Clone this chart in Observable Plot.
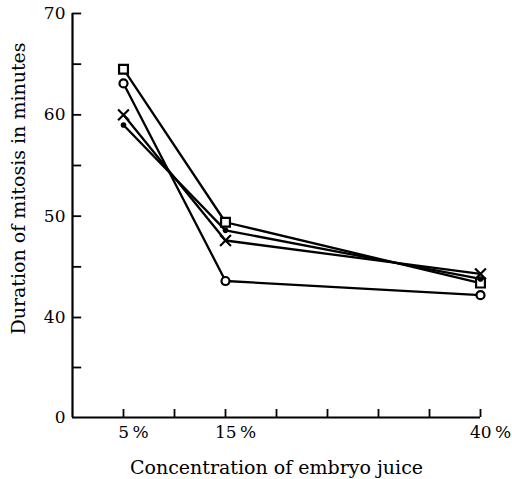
<!DOCTYPE html>
<html>
<head>
<meta charset="utf-8">
<script src="https://cdn.jsdelivr.net/npm/d3@7"></script>
<script src="https://cdn.jsdelivr.net/npm/@observablehq/plot@0.6"></script>
<style>
  html, body { margin: 0; padding: 0; background: #fff; }
  #chart svg { display: block; }
</style>
</head>
<body>
<div id="chart"></div>
<script>
// Data
const concentrations = [5, 15, 40];               // % embryo juice
const squareSeries = [64.5, 49.4, 43.4];
const circleSeries = [63.1, 43.6, 42.2];
const crossSeries  = [60.0, 47.6, 44.3];
const dotSeries    = [59.0, 48.6, 43.8];

const xTicks = [5, 10, 15, 20, 25, 30, 35, 40];
const xTickLabels = [5, 15, 40];
const yTicks = [20, 40, 45, 50, 55, 60, 65, 70];
const yTickLabels = [0, 40, 50, 60, 70];

const xTitle = "Concentration of embryo juice";
const yTitle = "Duration of mitosis in minutes";

const series = [
  {name: "square", values: squareSeries, symbol: "square", r: 5, fill: "white"},
  {name: "circle", values: circleSeries, symbol: "circle", r: 4, fill: "white"},
  {name: "cross",  values: crossSeries,  symbol: "times",  r: 5, fill: "none"},
  {name: "dot",    values: dotSeries,    symbol: "circle", r: 2.8, fill: "black"}
];
const rows = series.flatMap(s => concentrations.map((c, i) => ({series: s.name, x: c, y: s.values[i]})));

const width = 512, height = 479;
const marginTop = 13, marginBottom = 62, marginLeft = 72, marginRight = 32;
const yBottom = height - marginBottom, yTop = marginTop;
const yBreak = yBottom - (yBottom - yTop) * 100 / 404;  // compressed 0–40 segment

const font = "DejaVu Serif";

const marks = [
  // axis lines
  Plot.ruleX([0], {y1: 0, y2: 70, stroke: "black", strokeWidth: 2.2}),
  Plot.ruleY([0], {x1: 0, x2: 40, stroke: "black", strokeWidth: 2.2}),
  // inward ticks
  Plot.ruleY(yTicks, {x1: 0, x2: 0.9, stroke: "black", strokeWidth: 1.8}),
  Plot.ruleX(xTicks, {y1: 0, y2: 3.2, stroke: "black", strokeWidth: 1.8}),
  // tick labels
  Plot.axisY({ticks: yTickLabels, tickSize: 0, tickPadding: 7, fontSize: 17, label: null}),
  Plot.axisX({ticks: xTickLabels, tickSize: 0, tickPadding: 8, fontSize: 17, label: null,
              tickFormat: d => `${d}\u2009%`, dx: 10}),
  // titles
  Plot.text([xTitle], {frameAnchor: "bottom", dy: 50, fontSize: 19, lineAnchor: "middle", fill: "black"}),
  Plot.text([yTitle], {frameAnchor: "top-left", rotate: -90, dx: -54, dy: 175, fontSize: 19, lineAnchor: "middle", textAnchor: "middle", fill: "black"}),
  // lines
  ...series.map(s => Plot.line(rows.filter(d => d.series === s.name), {x: "x", y: "y", stroke: "black", strokeWidth: 2.3})),
  // markers
  ...series.map(s => Plot.dot(rows.filter(d => d.series === s.name), {
    x: "x", y: "y", symbol: () => s.symbol, r: s.r,
    fill: s.fill, stroke: "black", strokeWidth: s.name === "dot" ? 0 : 2.2
  }))
];

const chart = Plot.plot({
  width, height, marginTop, marginBottom, marginLeft, marginRight,
  style: {fontFamily: font, color: "black", background: "white"},
  x: {domain: [0, 40], axis: null},
  y: {type: "linear", domain: [0, 40, 70], range: [yBottom, yBreak, yTop], axis: null},
  symbol: {type: "identity"},
  marks
});
document.getElementById("chart").appendChild(chart);
</script>
</body>
</html>
